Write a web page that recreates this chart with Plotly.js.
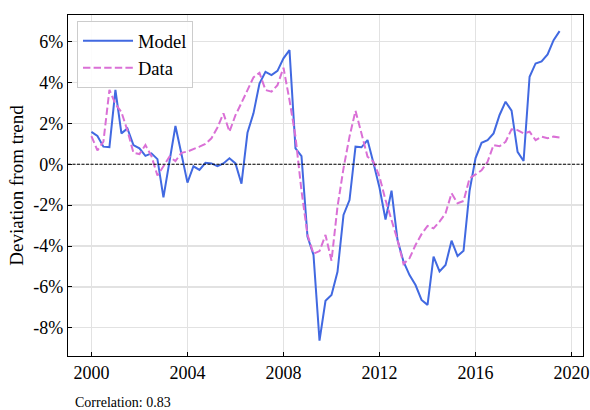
<!DOCTYPE html>
<html>
<head>
<meta charset="utf-8">
<script src="https://cdn.plot.ly/plotly-3.0.1.min.js"></script>
<style>html,body{margin:0;padding:0;background:#fff;}#chart{width:590px;height:410px;}</style>
</head>
<body>
<div id="chart"></div>
<script>
// Quarterly series, starting 2000 Q1
var startYear = 2000;
var modelValues = [1.58,1.38,0.86,0.84,3.64,1.51,1.75,0.94,0.78,0.41,0.53,0.25,
  -1.62,0.15,1.87,0.50,-0.90,-0.10,-0.28,0.07,0.04,-0.09,0.04,0.29,
  0.04,-0.95,1.54,2.49,3.95,4.52,4.36,4.57,5.18,5.58,0.78,0.40,
  -3.54,-4.44,-8.63,-6.68,-6.40,-5.26,-2.48,-1.75,0.86,0.83,1.18,0.05,
  -1.15,-2.70,-1.29,-3.71,-4.77,-5.42,-5.91,-6.64,-6.88,-4.52,-5.24,-4.93,
  -3.74,-4.49,-4.23,-1.30,0.30,1.05,1.18,1.51,2.41,3.06,2.62,0.61,
  0.16,4.28,4.93,5.03,5.37,6.07,6.51];
var dataValues = [1.38,0.68,1.10,3.64,2.95,2.55,1.65,0.56,0.50,0.94,0.40,-0.55,
  -0.10,0.37,0.15,0.56,0.62,0.73,0.86,0.99,1.27,1.80,2.49,1.59,
  2.40,3.00,3.65,4.25,4.47,3.63,3.55,3.87,4.72,3.14,1.35,-1.30,
  -3.45,-4.38,-4.25,-3.46,-4.72,-2.08,-0.20,1.35,2.62,1.51,0.37,0.12,
  -0.61,-1.75,-2.73,-3.71,-4.88,-4.60,-3.95,-3.42,-3.02,-3.14,-2.81,-2.40,
  -1.42,-1.91,-1.80,-0.69,-0.50,-0.30,0.12,0.94,0.88,1.10,1.71,1.67,
  1.51,1.59,1.18,1.35,1.27,1.35,1.31];
var xTickVals = [2000,2004,2008,2012,2016,2020];
var xTickText = ['2000','2004','2008','2012','2016','2020'];
var yTickVals = [-8,-6,-4,-2,0,2,4,6];
var yTickText = ['-8%','-6%','-4%','-2%','0%','2%','4%','6%'];
var seriesNames = ['Model','Data'];
var yTitle = 'Deviation from trend';
var noteText = 'Correlation: 0.83';

var quarters = modelValues.map(function(_, i){ return startYear + i/4; });

var serif = 'Liberation Serif, Times New Roman, serif';

var traces = [
  {x: quarters, y: modelValues, name: seriesNames[0], type: 'scatter', mode: 'lines',
   line: {color: '#4169E1', width: 2}},
  {x: quarters, y: dataValues, name: seriesNames[1], type: 'scatter', mode: 'lines',
   line: {color: '#DA70D6', width: 2, dash: '7.4px,3.2px'}}
];

var axisCommon = {
  showline: true, linecolor: '#000', linewidth: 1.2, mirror: true,
  ticks: 'inside', ticklen: 4, tickwidth: 1, tickcolor: '#000',
  showgrid: true, gridcolor: '#e2e2e2', gridwidth: 1.3,
  zeroline: false, tickfont: {family: serif, size: 18, color: '#000'}
};

var layout = {
  width: 590, height: 410,
  margin: {l: 68, r: 7, t: 15, b: 54},
  paper_bgcolor: '#fff', plot_bgcolor: '#fff',
  font: {family: serif, color: '#000'},
  showlegend: true,
  legend: {x: 0.0175, y: 0.982, xanchor: 'left', yanchor: 'top',
    bgcolor: 'rgba(255,255,255,0.9)', bordercolor: '#cccccc', borderwidth: 1,
    itemwidth: 50, tracegroupgap: 0,
    font: {family: serif, size: 18.5, color: '#000'}},
  xaxis: Object.assign({}, axisCommon, {
    range: [1999.025, 2020.475], tickvals: xTickVals, ticktext: xTickText
  }),
  yaxis: Object.assign({}, axisCommon, {
    range: [-9.38, 7.30], tickvals: yTickVals, ticktext: yTickText,
    title: {text: yTitle, font: {family: serif, size: 19, color: '#000'}, standoff: 4}
  }),
  shapes: [{type: 'line', xref: 'paper', x0: 0, x1: 1, yref: 'y', y0: 0, y1: 0,
    line: {color: '#000', width: 1, dash: '3px,1.5px'}, layer: 'above'}],
  annotations: [{text: noteText, xref: 'paper', yref: 'paper', x: 0.01, y: -0.135,
    xanchor: 'left', yanchor: 'middle', showarrow: false,
    font: {family: serif, size: 14, color: '#000'}}]
};

Plotly.newPlot('chart', traces, layout, {displayModeBar: false, staticPlot: true});
</script>
</body>
</html>
